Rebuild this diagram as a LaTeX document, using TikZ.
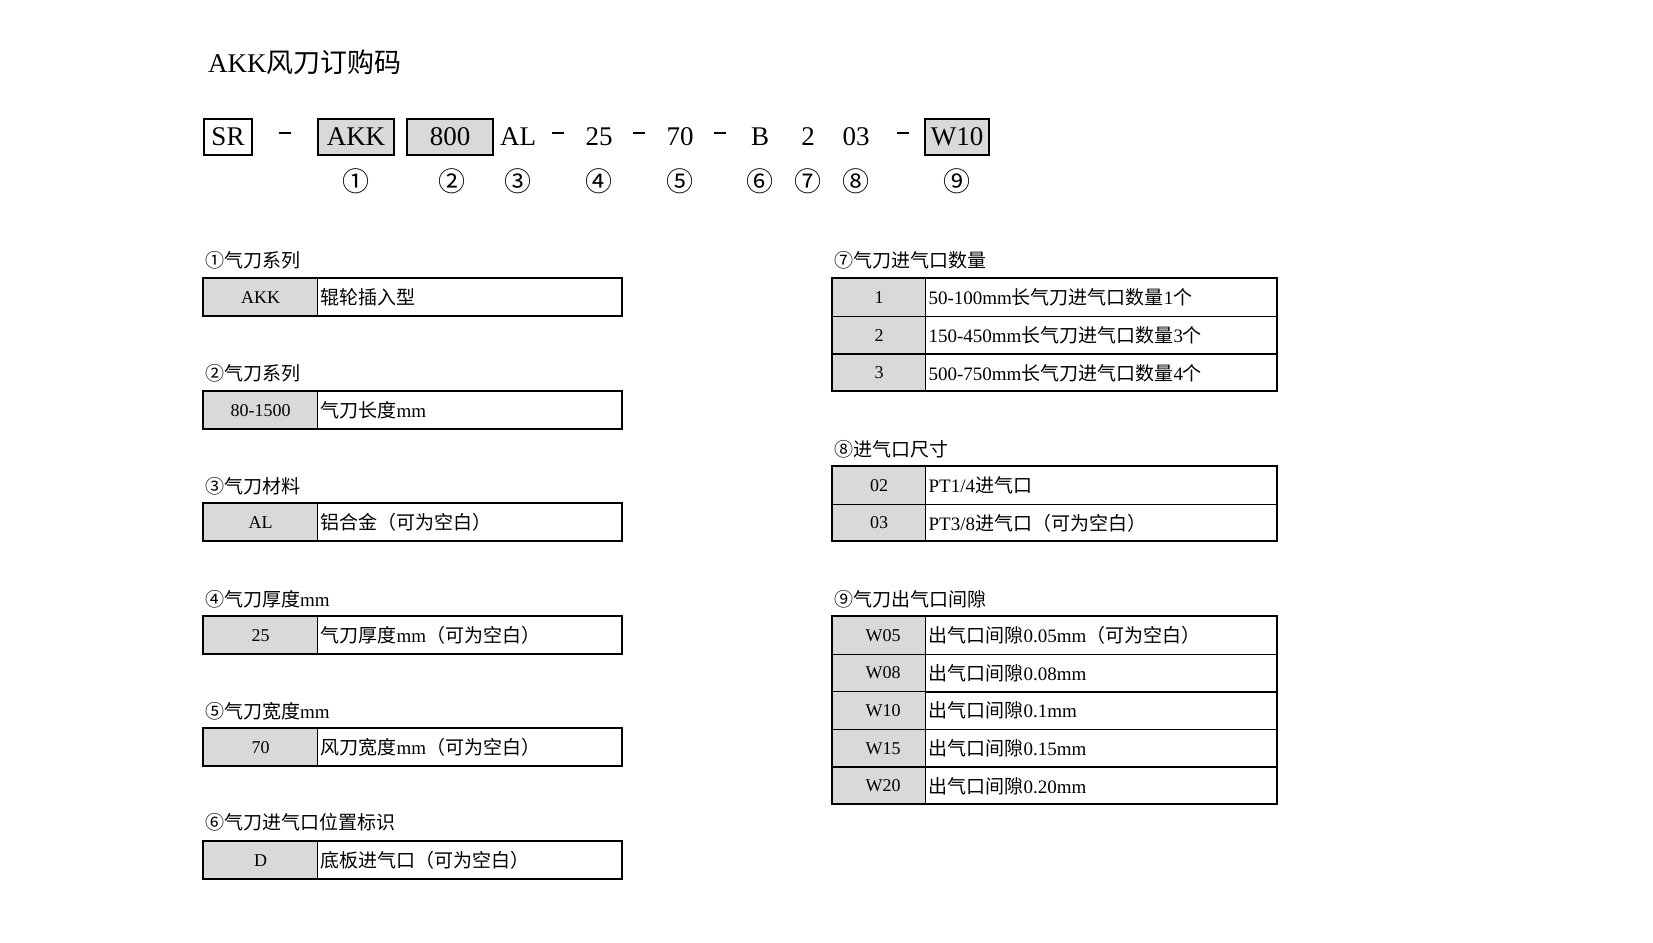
\documentclass[tikz,border=0pt]{standalone}
\usepackage{fontspec}
\setmainfont{Liberation Serif}[Scale=1]
\newfontfamily\cjk{Noto Sans CJK SC}
\newcommand\zh[1]{{\cjk #1}}
\newcommand\dsh{\rule[0.3em]{0.42em}{1.1pt}}
\begin{document}
\begin{tikzpicture}[x=1pt,y=-1pt,
  hd/.style={font=\fontsize{27}{27}\selectfont, inner sep=0pt},
  hbox/.style={draw, line width=2.5pt, minimum height=36pt, inner sep=0pt, font=\fontsize{27}{27}\selectfont},
  circ/.style={font=\fontsize{27}{27}\selectfont\cjk, inner sep=0pt},
  lab/.style={anchor=west, font=\fontsize{19}{19}\selectfont, inner sep=0pt},
  key/.style={draw, line width=1.2pt, fill=black!15, anchor=north west, inner sep=0pt, font=\fontsize{18}{18}\selectfont},
  desc/.style={draw, line width=1.2pt, anchor=north west, inner sep=0pt, font=\fontsize{19}{19}\selectfont},
  frame/.style={draw, line width=2.6pt}]
\useasboundingbox (0,0) rectangle (1653,942);
\fill[white] (0,0) rectangle (1653,942);
% title
\node[anchor=west, font=\fontsize{27}{27}\selectfont, inner sep=0pt] (title) at (208,62) {AKK\zh{风刀订购码}};
% header
\node[hbox, minimum width=48pt] (sr) at (228,137) {SR};
\node[hd] (d1) at (285,137) {\dsh};
\node[hbox, fill=black!15, minimum width=76pt] (akk) at (356,137) {AKK};
\node[hbox, fill=black!15, minimum width=86pt] (h800) at (450,137) {800};
\node[hd] (al) at (518,137) {AL};
\node[hd] (d2) at (558,137) {\dsh};
\node[hd] (h25) at (599,137) {25};
\node[hd] (d3) at (639,137) {\dsh};
\node[hd] (h70) at (680,137) {70};
\node[hd] (d4) at (720,137) {\dsh};
\node[hd] (hb) at (760,137) {B};
\node[hd] (h2) at (808,137) {2};
\node[hd] (h03) at (856,137) {03};
\node[hd] (d5) at (903,137) {\dsh};
\node[hbox, fill=black!15, minimum width=64pt] (w10) at (957,137) {W10};
\foreach \n/\x/\t in {c1/356/①,c2/452/②,c3/518/③,c4/599/④,c5/680/⑤,c6/760/⑥,c7/808/⑦,c8/856/⑧,c9/957/⑨}
  \node[circ] (\n) at (\x,181) {\t};
% left tables
\newcommand\lrow[4]{% name, ytop, key, desc
  \node[key, minimum width=114pt, minimum height=38pt] (#1k) at (203,#2) {#3};
  \node[desc, minimum width=305pt, minimum height=38pt, text width=299pt, align=left] (#1d) at (317,#2) {#4};
  \draw[frame] (203,#2) rectangle (622,#2+38);}
\node[lab] (l1) at (205,260) {\zh{①气刀系列}};
\lrow{a}{278}{AKK}{\zh{辊轮插入型}}
\node[lab] (l2) at (205,373) {\zh{②气刀系列}};
\lrow{b}{391}{80-1500}{\zh{气刀长度}mm}
\node[lab] (l3) at (205,486) {\zh{③气刀材料}};
\lrow{c}{503}{AL}{\zh{铝合金（可为空白）}}
\node[lab] (l4) at (205,599) {\zh{④气刀厚度}mm};
\lrow{d}{616}{25}{\zh{气刀厚度}mm\zh{（可为空白）}}
\node[lab] (l5) at (205,711) {\zh{⑤气刀宽度}mm};
\lrow{e}{728}{70}{\zh{风刀宽度}mm\zh{（可为空白）}}
\node[lab] (l6) at (205,822) {\zh{⑥气刀进气口位置标识}};
\lrow{f}{841}{D}{\zh{底板进气口（可为空白）}}
% right tables
\newcommand\rrow[4]{%
  \node[key, minimum width=93pt, minimum height=37.7pt] (#1k) at (832,#2) {#3};
  \node[desc, minimum width=352pt, minimum height=37.7pt, text width=346pt, align=left] (#1d) at (925,#2) {#4};}
\node[lab] (l7) at (834,260) {\zh{⑦气刀进气口数量}};
\rrow{g1}{278}{1}{50-100mm\zh{长气刀进气口数量}1\zh{个}}
\rrow{g2}{315.7}{2}{150-450mm\zh{长气刀进气口数量}3\zh{个}}
\rrow{g3}{353.4}{3}{500-750mm\zh{长气刀进气口数量}4\zh{个}}
\draw[frame] (832,278) rectangle (1277,391);
\node[lab] (l8) at (834,449) {\zh{⑧进气口尺寸}};
\rrow{h1}{466}{02}{PT1/4\zh{进气口}}
\rrow{h2}{503.5}{03}{PT3/8\zh{进气口（可为空白）}}
\draw[frame] (832,466) rectangle (1277,541);
\node[lab] (l9) at (834,599) {\zh{⑨气刀出气口间隙}};
\rrow{i1}{616}{\hspace*{8pt}W05\hfill}{\zh{出气口间隙}0.05mm\zh{（可为空白）}}
\rrow{i2}{653.6}{\hspace*{8pt}W08\hfill}{\zh{出气口间隙}0.08mm}
\rrow{i3}{691.2}{\hspace*{8pt}W10\hfill}{\zh{出气口间隙}0.1mm}
\rrow{i4}{728.8}{\hspace*{8pt}W15\hfill}{\zh{出气口间隙}0.15mm}
\rrow{i5}{766.4}{\hspace*{8pt}W20\hfill}{\zh{出气口间隙}0.20mm}
\draw[frame] (832,616) rectangle (1277,804);
\end{tikzpicture}
\end{document}
